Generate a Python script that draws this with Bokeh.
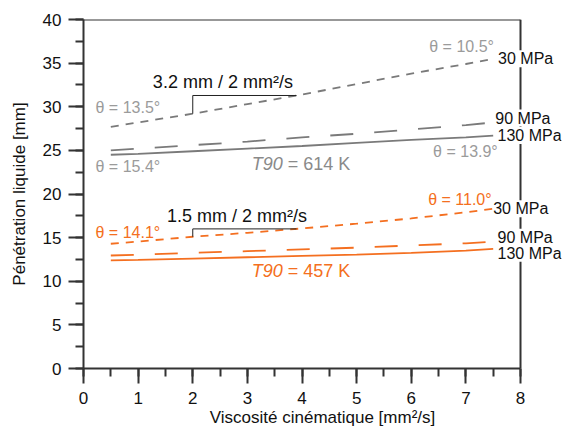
from bokeh.plotting import figure
from bokeh.models import Range1d, SingleIntervalTicker, Label, Span
from bokeh.embed import file_html
from bokeh.resources import INLINE
import numpy as np

# ---- data ----
viscosity = [0.5, 1, 2, 3, 4, 5, 6, 7, 7.5]
gray_30 = [27.7, 28.2, 29.2, 30.3, 31.4, 32.6, 33.8, 34.9, 35.5]
gray_90 = [25.0, 25.2, 25.6, 26.0, 26.5, 26.9, 27.4, 27.9, 28.2]
gray_130 = [24.5, 24.6, 24.9, 25.2, 25.5, 25.85, 26.2, 26.5, 26.7]
orange_30 = [14.3, 14.55, 15.1, 15.55, 16.05, 16.6, 17.2, 17.9, 18.3]
orange_90 = [12.95, 13.05, 13.25, 13.45, 13.65, 13.85, 14.1, 14.35, 14.55]
orange_130 = [12.4, 12.45, 12.6, 12.75, 12.9, 13.05, 13.25, 13.5, 13.7]
pressure_labels = ["30 MPa", "90 MPa", "130 MPa"]
slope_x = [2.0, 3.9]
gray_theta = ["θ = 10.5°", "θ = 13.5°", "θ = 15.4°", "θ = 13.9°"]
orange_theta = ["θ = 11.0°", "θ = 14.1°"]
slope_texts = ["3.2 mm / 2 mm²/s", "1.5 mm / 2 mm²/s"]
t90_values = ["614 K", "457 K"]
x_limits = [0, 8]
y_limits = [0, 40]

GRAY_LINE = "#7a7a7a"
GRAY_TEXT = "#9b9b9b"
ORANGE = "#f46f20"
AXIS = "#333333"
FONT = "Liberation Sans"

# frame: 83..561 px wide, the axis itself spans 83..520 px (0..8)
frame_left, axis_right, frame_right = 83, 520, 561
x_end = x_limits[1] * (frame_right - frame_left) / (axis_right - frame_left)

p = figure(width=562, height=430, x_range=Range1d(x_limits[0], x_end),
           y_range=Range1d(y_limits[0], y_limits[1]),
           output_backend="svg", toolbar_location=None,
           min_border_left=frame_left, min_border_top=19,
           min_border_right=562 - frame_right, min_border_bottom=62)
p.grid.visible = False
p.background_fill_color = "white"
p.border_fill_color = "white"
p.outline_line_color = None

p.xaxis.ticker = SingleIntervalTicker(interval=1, num_minor_ticks=2)
p.yaxis.ticker = SingleIntervalTicker(interval=5, num_minor_ticks=2)
p.xaxis.bounds = (x_limits[0], x_limits[1])
p.xaxis.axis_label = "Viscosité cinématique [mm²/s]"
p.yaxis.axis_label = "Pénétration liquide [mm]"
for ax in (p.xaxis, p.yaxis):
    ax.axis_line_color = AXIS
    ax.axis_line_width = 2
    ax.major_tick_line_color = AXIS
    ax.major_tick_line_width = 2
    ax.minor_tick_line_color = AXIS
    ax.minor_tick_line_width = 2
    ax.major_tick_out = 15
    ax.major_tick_in = 0
    ax.minor_tick_out = 8
    ax.minor_tick_in = 0
    ax.major_label_text_font = FONT
    ax.major_label_text_font_size = "17px"
    ax.major_label_text_color = "#111111"
    ax.axis_label_text_font = FONT
    ax.axis_label_text_font_size = "17px"
    ax.axis_label_text_font_style = "normal"
    ax.axis_label_text_color = "#111111"
p.xaxis.major_label_standoff = 8
p.xaxis.axis_label_standoff = 1
p.yaxis.major_label_standoff = 7
p.yaxis.axis_label_standoff = 11

# box: top and right edges
p.segment(x0=[x_limits[0]], y0=[y_limits[1]], x1=[x_limits[1]], y1=[y_limits[1]],
          line_color=AXIS, line_width=2)
p.add_layout(Span(location=x_limits[1], dimension="height", line_color=AXIS, line_width=2))

# ---- curves ----
short_dash = "8 7"
long_dash = "23 21"
for ys, col in ((gray_30, GRAY_LINE), (orange_30, ORANGE)):
    p.line(viscosity, ys, line_color=col, line_width=1.8, line_dash=short_dash)
for ys, col in ((gray_90, GRAY_LINE), (orange_90, ORANGE)):
    p.line(viscosity, ys, line_color=col, line_width=1.8, line_dash=long_dash)
for ys, col in ((gray_130, GRAY_LINE), (orange_130, ORANGE)):
    p.line(viscosity, ys, line_color=col, line_width=1.8)

# ---- slope indicators ----
for ys in (gray_30, orange_30):
    y0 = float(np.interp(slope_x[0], viscosity, ys))
    y1 = float(np.interp(slope_x[1], viscosity, ys))
    p.line([slope_x[0], slope_x[0], slope_x[1]], [y0, y1, y1], line_color="#222222", line_width=1)

def lab(x, y, text, color, size="16px", align="left", style="normal", bg=None, xo=0):
    kw = dict(x=x, y=y, text=text, text_color=color, text_font=FONT, text_font_size=size,
              text_align=align, text_baseline="middle", text_font_style=style, x_offset=xo)
    if bg:
        kw["background_fill_color"] = bg
    p.add_layout(Label(**kw))

# pressure labels
for (x, y), t in zip([(7.59, 35.5), (7.54, 28.7), (7.58, 26.7)], pressure_labels):
    lab(x, y, t, "#111111", bg="white")
for (x, y), t in zip([(7.50, 18.3), (7.58, 15.05), (7.58, 13.2)], pressure_labels):
    lab(x, y, t, "#111111", bg="white")

# theta labels
for (x, y), t in zip([(6.33, 36.9), (0.22, 29.9), (0.22, 23.2), (6.4, 24.9)], gray_theta):
    lab(x, y, t, GRAY_TEXT)
for (x, y), t in zip([(6.31, 19.4), (0.22, 15.6)], orange_theta):
    lab(x, y, t, ORANGE)

# slope labels
lab(1.27, 32.8, slope_texts[0], "#111111", size="18px")
lab(1.53, 17.5, slope_texts[1], "#111111", size="18px")

# T90 labels
for (x, y), v, col in zip([(3.08, 23.4), (3.08, 11.2)], t90_values, ["#8a8a8a", ORANGE]):
    lab(x, y, "T90", col, size="18px", style="italic")
    lab(x, y, "= " + v, col, size="18px", xo=36)

open("out.html", "w").write(file_html(p, INLINE))
